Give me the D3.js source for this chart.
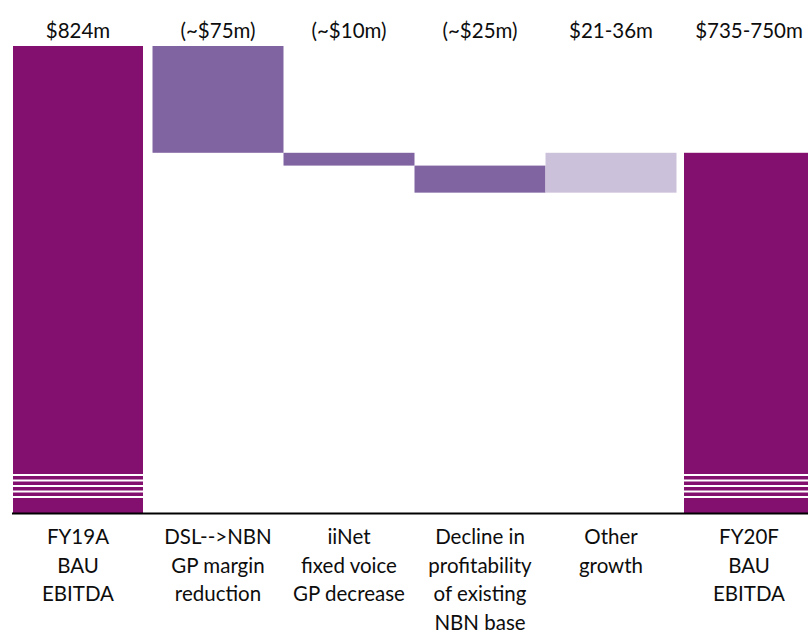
<!DOCTYPE html>
<html lang="en">
<head>
  <meta charset="UTF-8">
  <title>EBITDA bridge</title>
  <script src="https://d3js.org/d3.v7.min.js"></script>
  <style>
    body { margin: 0; background: #fff; }
    text { font-family: Lato, "Open Sans", sans-serif; fill: #0d0d0d; }
  </style>
</head>
<body>
  <svg id="svg" width="808" height="633"></svg>
  <script>
    // data
    var categories = [
      ['FY19A', 'BAU', 'EBITDA'],
      ['DSL-->NBN', 'GP margin', 'reduction'],
      ['iiNet', 'fixed voice', 'GP decrease'],
      ['Decline in', 'profitability', 'of existing', 'NBN base'],
      ['Other', 'growth'],
      ['FY20F', 'BAU', 'EBITDA']
    ]
    var valueLabels = ['$824m', '(~$75m)', '(~$10m)', '(~$25m)', '$21-36m', '$735-750m']
    var kinds = ['total', 'down', 'down', 'down', 'up', 'total']
    var values = [824, -75, -9, -19, 28, 749]   // totals and steps as drawn
    var axisMin = 496                             // broken axis, bars start here

    var colors = { total: '#83106F', down: '#8064A2', up: '#CCC1DA' }

    var svg = d3.select('#svg')
    var base = 513

    var x = d3.scaleBand()
      .domain(d3.range(categories.length))
      .range([21.5, 807.5])
      .padding(0)

    var y = d3.scaleLinear()
      .domain([axisMin, 824])
      .range([base, 46])

    // build waterfall rows
    var level = 0
    var rows = values.map(function (v, i) {
      var r
      if (kinds[i] === 'total') {
        r = { lo: axisMin, hi: v }
        level = v
      } else {
        r = { lo: Math.min(level, level + v), hi: Math.max(level, level + v) }
        level += v
      }
      r.kind = kinds[i]
      r.i = i
      return r
    })

    var totalW = 130
    function barX(d) {
      if (d.kind !== 'total') return x(d.i)
      return d.i === 0 ? x(d.i) - 8.5 : x(d.i) + 7.5
    }
    function barW(d) { return d.kind === 'total' ? totalW : x.bandwidth() }
    function barC(d) { return barX(d) + barW(d) / 2 }

    svg.append('g').selectAll('rect')
      .data(rows)
      .enter()
      .append('rect')
      .attr('x', barX)
      .attr('width', barW)
      .attr('y', function (d) { return y(d.hi) })
      .attr('height', function (d) { return y(d.lo) - y(d.hi) })
      .attr('fill', function (d) { return colors[d.kind] })

    // axis-break stripes on the total bars
    var stripes = [475, 480.5, 486, 491.5, 497]
    rows.filter(function (d) { return d.kind === 'total' }).forEach(function (d) {
      svg.append('g').selectAll('rect')
        .data(stripes)
        .enter()
        .append('rect')
        .attr('x', barX(d))
        .attr('width', barW(d))
        .attr('y', function (s) { return s - 1 })
        .attr('height', 2)
        .attr('fill', '#fff')
    })

    // baseline
    svg.append('line')
      .attr('x1', 12).attr('x2', 808)
      .attr('y1', base + 0.5).attr('y2', base + 0.5)
      .attr('stroke', '#000')
      .attr('stroke-width', 2)

    // value labels on top
    svg.append('g').selectAll('text')
      .data(rows)
      .enter()
      .append('text')
      .attr('x', barC)
      .attr('y', 38)
      .attr('text-anchor', 'middle')
      .style('font-size', '20.5px')
      .text(function (d) { return valueLabels[d.i] })

    // category labels
    var cat = svg.append('g').selectAll('text')
      .data(rows)
      .enter()
      .append('text')
      .attr('x', barC)
      .attr('y', 544)
      .attr('text-anchor', 'middle')
      .style('font-size', '20.5px')

    cat.selectAll('tspan')
      .data(function (d) { return categories[d.i].map(function (t) { return { t: t, c: barC(d) } }) })
      .enter()
      .append('tspan')
      .attr('x', function (d) { return d.c })
      .attr('dy', function (d, j) { return j === 0 ? 0 : 28.5 })
      .text(function (d) { return d.t })
  </script>
</body>
</html>
